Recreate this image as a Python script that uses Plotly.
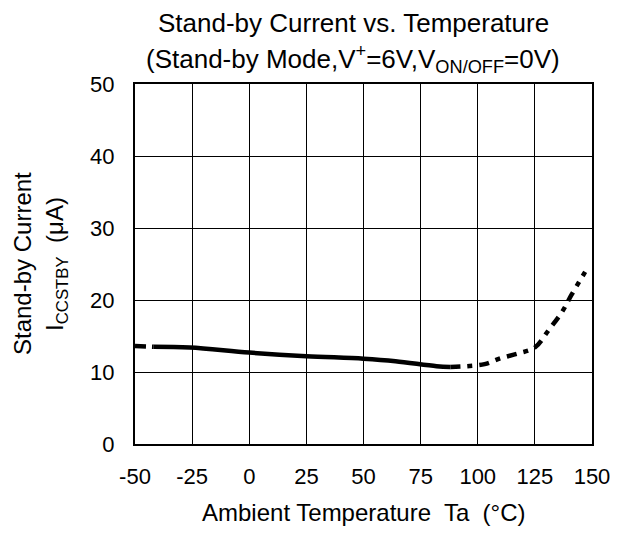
import plotly.graph_objects as go

# Data
temp_dash_left = [-50, -42]
cur_dash_left = [13.6, 13.5]

temp_solid = [-42, -26, 0, 25, 50, 64, 82, 88]
cur_solid = [13.5, 13.4, 12.7, 12.2, 11.85, 11.5, 10.8, 10.7]

temp_dash_right = [88, 95, 103, 110, 118, 125, 131, 137, 141, 147]
cur_dash_right = [10.7, 10.8, 11.1, 11.9, 12.6, 13.4, 15.8, 18.4, 20.7, 23.9]

x_ticks = [-50, -25, 0, 25, 50, 75, 100, 125, 150]
y_ticks = [0, 10, 20, 30, 40, 50]

FONT = "Liberation Sans, Arial, sans-serif"

fig = go.Figure()
fig.add_trace(go.Scatter(x=temp_dash_left, y=cur_dash_left, mode="lines",
                         line=dict(color="black", width=4.5, dash="11px,6px"),
                         showlegend=False))
fig.add_trace(go.Scatter(x=temp_solid, y=cur_solid, mode="lines",
                         line=dict(color="black", width=4.5, shape="spline"),
                         showlegend=False))
fig.add_trace(go.Scatter(x=temp_dash_right, y=cur_dash_right, mode="lines",
                         line=dict(color="black", width=4.5, shape="spline",
                                   dash="10px,7px,5px,7px"),
                         showlegend=False))

# the page body has an 8px margin, so the figure is 8px smaller
fig.update_layout(
    width=614, height=525,
    margin=dict(l=127, r=25, t=76, b=89),
    paper_bgcolor="white", plot_bgcolor="white",
    font=dict(family=FONT, size=22, color="black"),
    xaxis=dict(range=[-50, 150], tickvals=x_ticks, ticktext=[str(v) for v in x_ticks],
               showgrid=True, gridcolor="black", gridwidth=1,
               showline=True, linecolor="black", linewidth=2, mirror=True,
               ticks="", zeroline=False, ticklabelstandoff=12,
               tickfont=dict(size=22)),
    yaxis=dict(range=[0, 50], tickvals=y_ticks, ticktext=[str(v) for v in y_ticks],
               showgrid=True, gridcolor="black", gridwidth=1,
               showline=True, linecolor="black", linewidth=2, mirror=True,
               ticks="", zeroline=False, ticklabelstandoff=14,
               tickfont=dict(size=22)),
    annotations=[
        dict(text="Stand-by Current vs. Temperature", xref="paper", yref="paper",
             x=0.478, y=1, yshift=61, showarrow=False, xanchor="center", yanchor="middle",
             font=dict(size=26)),
        dict(text="(Stand-by Mode,V<sup>+</sup>=6V,V<sub>ON/OFF</sub>=0V)",
             xref="paper", yref="paper", x=0.478, y=1, yshift=25, showarrow=False,
             xanchor="center", yanchor="middle", font=dict(size=26)),
        dict(text="Ambient Temperature  Ta  (°C)", xref="paper", yref="paper",
             x=0.5, y=0, yshift=-68, showarrow=False, xanchor="center", yanchor="middle",
             font=dict(size=24)),
        dict(text="Stand-by Current", xref="paper", yref="paper",
             x=0, y=0.5, xshift=-113, showarrow=False, xanchor="center", yanchor="middle",
             textangle=-90, font=dict(size=24)),
        dict(text="I<sub>CCSTBY</sub>  (μA)", xref="paper", yref="paper",
             x=0, y=0.5, xshift=-79, showarrow=False, xanchor="center", yanchor="middle",
             textangle=-90, font=dict(size=24)),
    ],
)

fig.write_html("out.html")
